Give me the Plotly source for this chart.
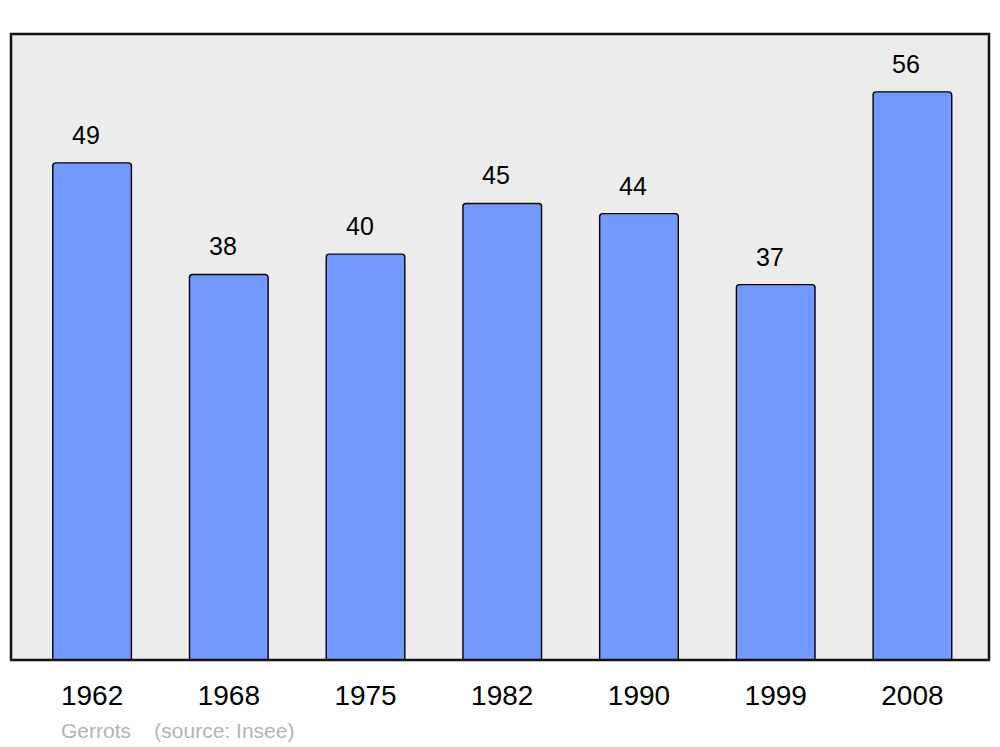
import plotly.graph_objects as go

years = ["1962", "1968", "1975", "1982", "1990", "1999", "2008"]
population = [49, 38, 40, 45, 44, 37, 56]
pos = list(range(len(years)))

fig = go.Figure()
fig.add_trace(go.Bar(
    x=pos, y=population, width=0.575,
    marker=dict(color="#7399ff", line=dict(color="#000000", width=1.4), cornerradius=3),
    hoverinfo="skip",
))

# value labels above bars
for i, v in zip(pos, population):
    fig.add_annotation(x=i, y=v, text=str(v), showarrow=False,
                       xshift=-6, yshift=28, yanchor="middle",
                       font=dict(size=25, color="#000000", family="Liberation Sans, Arial"))

fig.add_annotation(xref="paper", yref="paper", x=(59 - 11) / 978, y=-(730 - 660) / 626,
                   xanchor="left", yanchor="middle", showarrow=False,
                   text="Gerrots\u00a0\u00a0\u00a0\u00a0(source: Insee)",
                   font=dict(size=21, color="#b3b3b3", family="Liberation Sans, Arial"))

fig.add_shape(type="rect", xref="paper", yref="paper", x0=0, x1=1, y0=0, y1=1,
              line=dict(color="#111111", width=2.5), layer="above")

fig.update_layout(
    width=1000, height=747,
    margin=dict(l=11, r=11, t=34, b=87),
    paper_bgcolor="#ffffff", plot_bgcolor="#ececec",
    showlegend=False,
    font=dict(family="Liberation Sans, Arial", color="#000000"),
    xaxis=dict(range=[-0.593, 6.56], tickvals=pos, ticktext=years,
               showgrid=False, zeroline=False, ticks="", showline=False,
               tickfont=dict(size=28), ticklabelstandoff=16),
    yaxis=dict(range=[0, 61.7], showticklabels=False, showgrid=False,
               zeroline=False, ticks="", showline=False),
)

fig.write_html("out.html", config={"displayModeBar": False},
               post_script="document.body.style.margin='0';")
